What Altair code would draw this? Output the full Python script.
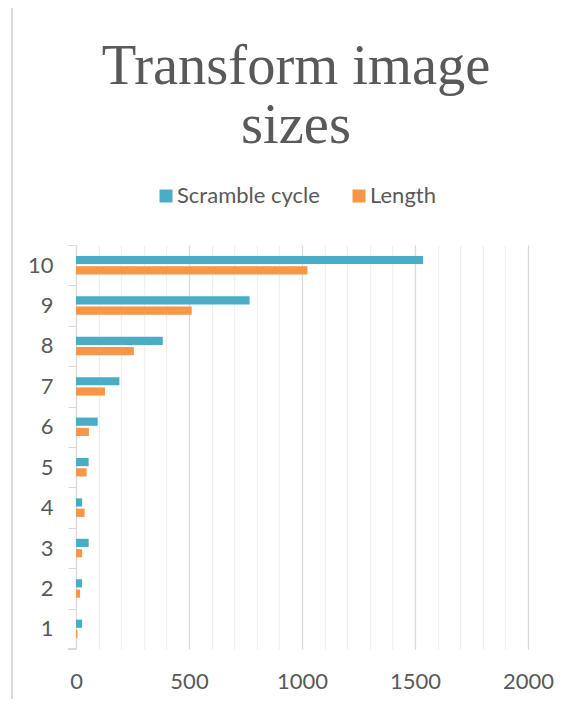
import altair as alt
import pandas as pd

categories = ["1", "2", "3", "4", "5", "6", "7", "8", "9", "10"]
scramble_cycle = [27, 27, 56, 27, 56, 96, 192, 384, 768, 1536]
length = [6, 18, 27, 38, 47, 57, 128, 256, 512, 1024]
series_names = ["Scramble cycle", "Length"]
x_ticks = list(range(0, 2001, 100))

rows = []
for c, s, l in zip(categories, scramble_cycle, length):
    rows.append({"cat": c, "series": series_names[0], "value": s})
    rows.append({"cat": c, "series": series_names[1], "value": l})
df = pd.DataFrame(rows)

GRAY = "#595959"
FONT = "Lato"
H = 404
STEP = H / 10

bars = alt.Chart(df).mark_bar().encode(
    x=alt.X(
        "value:Q",
        scale=alt.Scale(domain=[0, 2000], nice=False),
        axis=alt.Axis(
            title=None,
            values=x_ticks,
            labelExpr="datum.value % 500 === 0 ? datum.label : ''",
            format="d",
            domain=False,
            ticks=False,
            labelFlush=False,
            labelPadding=22,
            labelFont=FONT,
            labelFontSize=22,
            labelColor=GRAY,
            gridColor={"condition": {"test": "datum.value % 500 === 0", "value": "#d9d9d9"}, "value": "#efefef"},
            gridWidth=1.3,
        ),
    ),
    y=alt.Y(
        "cat:N",
        sort=list(reversed(categories)),
        scale=alt.Scale(paddingInner=0.543, paddingOuter=0.27),
        axis=alt.Axis(
            title=None,
            tickOffset=-STEP / 2,
            labelOffset=STEP / 2,
            tickSize=8,
            tickColor="#d9d9d9",
            domainColor="#d9d9d9",
            labelPadding=15,
            labelFont=FONT,
            labelFontSize=22,
            labelColor=GRAY,
            grid=False,
        ),
    ),
    yOffset=alt.YOffset(
        "series:N",
        sort=series_names,
        scale=alt.Scale(paddingInner=0.2, paddingOuter=0),
    ),
    color=alt.Color(
        "series:N",
        sort=series_names,
        scale=alt.Scale(domain=series_names, range=["#4BACC6", "#F79646"]),
        legend=alt.Legend(
            title=None,
            orient="none",
            legendX=79,
            legendY=-60,
            direction="horizontal",
            symbolType="square",
            symbolSize=169,
            symbolStrokeWidth=0,
            symbolOpacity=1,
            labelFont=FONT,
            labelFontSize=22,
            labelColor=GRAY,
            labelOffset=0,
            columnPadding=28,
        ),
    ),
)

border = alt.Chart(df).mark_rule(color="#d9d9d9", strokeWidth=1.5).encode(
    x=alt.value(-64), y=alt.value(-250), y2=alt.value(470)
)
bottom_tick = alt.Chart(df).mark_rule(color="#d9d9d9").encode(
    x=alt.value(-8), x2=alt.value(0), y=alt.value(H)
)

chart = alt.layer(bars, border, bottom_tick).properties(
    width=452,
    height=H,
    autosize=alt.AutoSizeParams(type="none"),
    padding={"left": 68, "top": 237, "right": 38, "bottom": 50},
    title=alt.TitleParams(
        text=["Transform image", "sizes"],
        font="Liberation Serif",
        fontSize=56.5,
        fontWeight="normal",
        color=GRAY,
        lineHeight=59,
        anchor="middle",
        frame="group",
        dx=-6,
        offset=-160,
    ),
).configure_view(stroke=None)

chart.save("out.html", embed_options={"renderer": "svg", "actions": False})
